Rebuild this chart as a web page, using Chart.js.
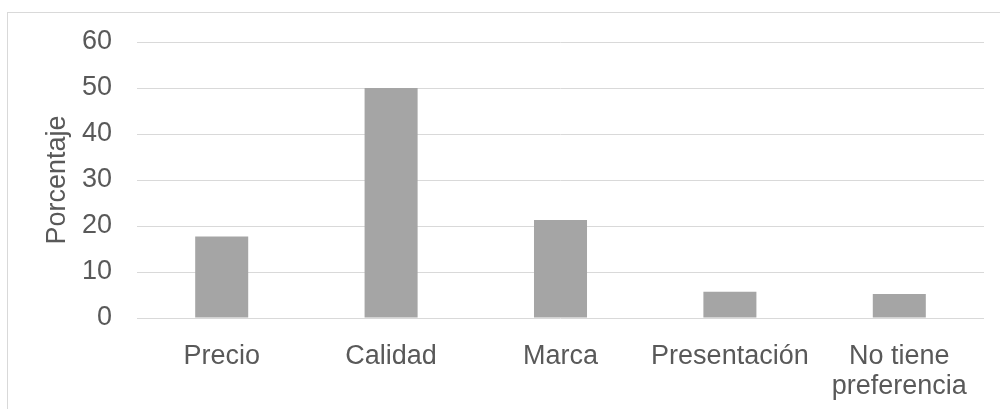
<!DOCTYPE html>
<html>
<head>
<meta charset="utf-8">
<script src="https://cdn.jsdelivr.net/npm/chart.js@4/dist/chart.umd.min.js"></script>
<style>
  html, body { margin: 0; padding: 0; background: #fff; overflow: hidden; }
  #frame {
    position: absolute; left: 7px; top: 12px;
    width: 1100px; height: 500px;
    border: 1px solid #d9d9d9;
  }
  #wrap { position: absolute; left: 0; top: 0; width: 1000px; height: 409px; }
</style>
</head>
<body>
<div id="frame"></div>
<div id="wrap"><canvas id="chart" width="1000" height="409"></canvas></div>
<script>
  // categorías y porcentajes
  const categorias = ["Precio", "Calidad", "Marca", "Presentación", ["No tiene", "preferencia"]];
  const porcentajes = [17.7, 50, 21.3, 5.7, 5.2];
  const yMin = 0, yMax = 60, yStep = 10;

  const gris = "#595959";
  const fuente = { family: "'Liberation Sans', Arial, sans-serif", size: 27 };

  new Chart(document.getElementById("chart"), {
    type: "bar",
    data: {
      labels: categorias,
      datasets: [{
        label: "Porcentaje",
        data: porcentajes,
        backgroundColor: "#a5a5a5",
        borderWidth: 0,
        barPercentage: 0.313,
        categoryPercentage: 1,
      }],
    },
    options: {
      responsive: false,
      animation: false,
      layout: { padding: { left: 41, top: 42, right: 16, bottom: 0 } },
      plugins: { legend: { display: false }, tooltip: { enabled: false } },
      scales: {
        x: {
          grid: { display: false },
          border: { display: false },
          ticks: { color: gris, font: { ...fuente, lineHeight: 1.1 }, padding: 16, maxRotation: 0, autoSkip: false },
          afterFit: (s) => { s.height = 91; },
        },
        y: {
          min: yMin, max: yMax,
          grid: { color: "#d9d9d9", lineWidth: 1, drawTicks: false },
          border: { display: false },
          ticks: { stepSize: yStep, color: gris, font: fuente, padding: 25 },
          title: { display: true, text: "Porcentaje", color: gris, font: fuente, padding: 0 },
          afterFit: (s) => { s.width = 96; },
        },
      },
    },
  });
</script>
</body>
</html>
